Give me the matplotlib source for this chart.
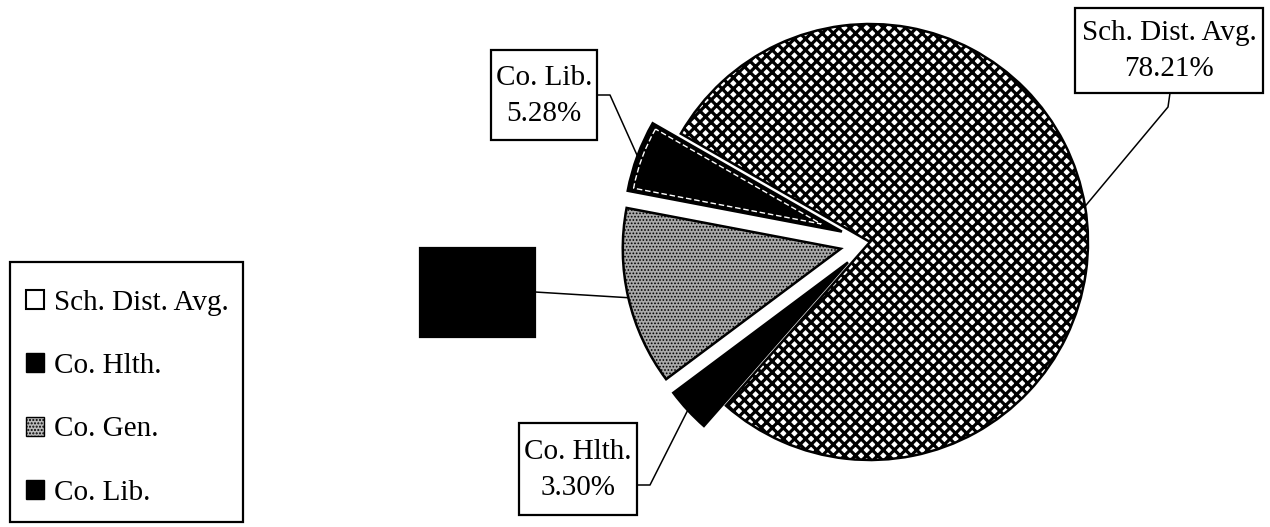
import numpy as np
import matplotlib
matplotlib.use('Agg')
import matplotlib.pyplot as plt
from matplotlib.patches import Patch, Rectangle, Wedge

# share of spending by unit (%)
labels = ['Sch. Dist. Avg.', 'Co. Hlth.', 'Co. Gen.', 'Co. Lib.']
shares = [78.21, 3.30, 13.21, 5.28]

plt.rcParams['font.family'] = ['Liberation Serif', 'DejaVu Serif']

fig = plt.figure(figsize=(12.7, 5.27), dpi=100)
ax = fig.add_axes([0, 0, 1, 1])

# pie laid out in pixel-sized data units
wedges, _ = ax.pie(shares, startangle=150.2, counterclock=False,
                   center=(870, 285), radius=218, explode=[0, 30, 30, 30],
                   wedgeprops=dict(linewidth=1.8, edgecolor='black'), frame=True)
ax.set_xlim(0, 1270)
ax.set_ylim(0, 527)
ax.set_aspect('equal')
ax.axis('off')

fills = ['white', 'black', '#a9a9a9', 'black']
hatches = ['xxx', None, '.....', None]
hatch_lw = [2.3, 1.0, 0.8, 1.0]
for w, fc, h, hl in zip(wedges, fills, hatches, hatch_lw):
    w.set_facecolor(fc)
    if h:
        w.set_hatch(h)
        if hasattr(w, 'set_hatch_linewidth'):
            w.set_hatch_linewidth(hl)

# white dashed inner rim on the library slice
lib = wedges[3]
m = np.deg2rad((lib.theta1 + lib.theta2) / 2)
shift = 22
ax.add_patch(Wedge((lib.center[0] + shift * np.cos(m), lib.center[1] + shift * np.sin(m)),
                   lib.r - shift - 5, lib.theta1, lib.theta2, fill=False,
                   edgecolor='white', linewidth=1.0, linestyle=(0, (4, 2)), zorder=2))

# callout boxes (left, bottom, width, height), then leader points from box to slice
boxes = [(1075, 434, 188, 85), (519, 12, 118, 92), (420, 190, 115, 89), (491, 387, 106, 90)]
leaders = [[(1170, 434), (1168, 420)],
           [(637, 42), (650, 42)],
           [(535, 235)],
           [(597, 432), (610, 432)]]
box_colors = ['white', 'white', 'black', 'white']

for w, name, val, (bx, by, bw, bh), pts, bc in zip(wedges, labels, shares, boxes, leaders, box_colors):
    mid = np.deg2rad((w.theta1 + w.theta2) / 2)
    cx, cy = w.center
    tip = (cx + w.r * np.cos(mid), cy + w.r * np.sin(mid))
    xs = [p[0] for p in pts] + [tip[0]]
    ys = [p[1] for p in pts] + [tip[1]]
    ax.plot(xs, ys, color='black', lw=1.1, zorder=3)
    ax.add_patch(Rectangle((bx, by), bw, bh, facecolor=bc, edgecolor='black',
                           linewidth=1.6, zorder=4))
    ax.text(bx + bw / 2, by + bh / 2 - 1, f'{name}\n{val:.2f}%', ha='center', va='center',
            fontsize=21, color='black', linespacing=1.5, zorder=5)

handles = [Patch(facecolor='white', edgecolor='black', linewidth=1.5),
           Patch(facecolor='black', edgecolor='black'),
           Patch(facecolor='#bbbbbb', edgecolor='black', hatch='.....'),
           Patch(facecolor='black', edgecolor='black')]
leg = ax.legend(handles, labels, loc='upper left', bbox_to_anchor=(17 / 1270, 246 / 527),
                fontsize=21, handlelength=0.62, handleheight=0.62, handletextpad=0.35,
                labelspacing=1.28, borderpad=0.3, borderaxespad=0, frameon=False)
ax.add_patch(Rectangle((10, 5), 233, 260, fill=False, edgecolor='black', linewidth=1.6, zorder=4))

fig.savefig('out.png', dpi=100)
